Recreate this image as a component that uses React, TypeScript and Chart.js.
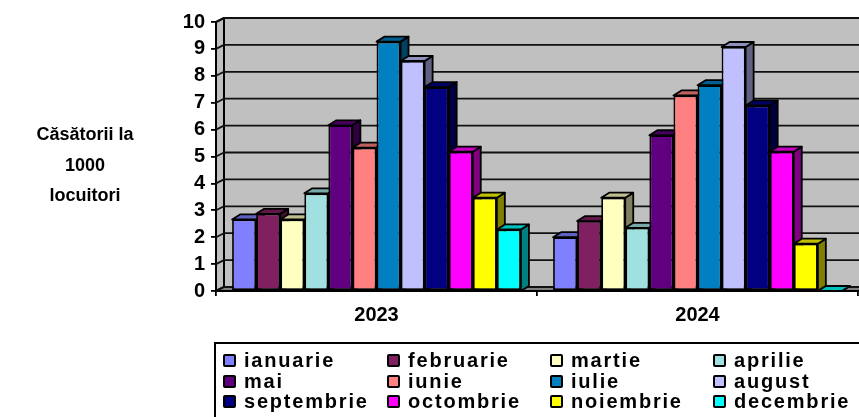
import React, { useEffect, useRef } from "react";
import { Chart, registerables } from "chart.js";

Chart.register(...registerables);

const years = ["2023", "2024"];
const months = ["ianuarie", "februarie", "martie", "aprilie", "mai", "iunie", "iulie", "august", "septembrie", "octombrie", "noiembrie", "decembrie"];
const colors = ["#8080FF", "#802060", "#FFFFC0", "#A0E0E0", "#600080", "#FF8080", "#0080C0", "#C0C0FF", "#000080", "#FF00FF", "#FFFF00", "#00FFFF"];
const values2023 = [2.66, 2.87, 2.66, 3.63, 6.16, 5.33, 9.27, 8.55, 7.58, 5.18, 3.47, 2.29];
const values2024 = [2.0, 2.6, 3.47, 2.35, 5.79, 7.27, 7.65, 9.07, 6.9, 5.18, 1.76, 0];
const sideTitle = ["Căsătorii la", "1000", "locuitori"];

const FONT = '"Liberation Sans", Arial, sans-serif';
const DX = 8;
const DY = 4;

function shade(hex: string, k: number) {
  const n = parseInt(hex.slice(1), 16);
  const r = Math.round(((n >> 16) & 255) * k);
  const g = Math.round(((n >> 8) & 255) * k);
  const b = Math.round((n & 255) * k);
  return `rgb(${r},${g},${b})`;
}

function poly(ctx: CanvasRenderingContext2D, pts: number[][], fill: string, lw = 1.8) {
  ctx.beginPath();
  pts.forEach((p, i) => (i ? ctx.lineTo(p[0], p[1]) : ctx.moveTo(p[0], p[1])));
  ctx.closePath();
  ctx.fillStyle = fill;
  ctx.fill();
  ctx.lineWidth = lw;
  ctx.lineJoin = "round";
  ctx.strokeStyle = "#000";
  ctx.stroke();
}

const depthPlugin = {
  id: "depth",
  beforeDatasetsDraw(chart: any) {
    const { ctx, chartArea: a, scales } = chart;
    const y = scales.y;
    ctx.save();
    const wr = a.right + DX + 4;
    poly(ctx, [[a.left + DX, a.top - DY], [wr, a.top - DY], [wr, a.bottom - DY], [a.left + DX, a.bottom - DY]], "#C0C0C0", 2);
    poly(ctx, [[a.left, a.top], [a.left + DX, a.top - DY], [a.left + DX, a.bottom - DY], [a.left, a.bottom]], "#C0C0C0", 2);
    poly(ctx, [[a.left, a.bottom], [a.left + DX, a.bottom - DY], [wr, a.bottom - DY], [a.right, a.bottom]], "#808080", 1.8);
    ctx.lineWidth = 1.8;
    ctx.strokeStyle = "#111";
    y.ticks.forEach((t: any) => {
      const py = y.getPixelForValue(t.value);
      ctx.beginPath();
      ctx.moveTo(a.left, py);
      ctx.lineTo(a.left + DX, py - DY);
      ctx.lineTo(wr, py - DY);
      ctx.stroke();
    });
    // side and top faces, left to right, so that each bar's front covers its neighbour
    [0, 1].forEach((cat) => {
      chart.data.datasets.forEach((ds: any, i: number) => {
        const el = chart.getDatasetMeta(i).data[cat];
        const half = el.width / 2;
        const l = el.x - half;
        const r = el.x + half;
        const top = el.y;
        const bot = y.getPixelForValue(0);
        const dy = 5;
        poly(ctx, [[r, top], [r + DX, top - dy], [r + DX, bot - dy], [r, bot]], shade(ds.backgroundColor, 0.5));
        poly(ctx, [[l, top], [l + DX, top - dy], [r + DX, top - dy], [r, top]], shade(ds.backgroundColor, 0.75));
      });
    });
    ctx.restore();
  },
};

export default function App() {
  const ref = useRef<HTMLCanvasElement>(null);
  useEffect(() => {
    const chart = new Chart(ref.current!, {
      type: "bar",
      data: {
        labels: years,
        datasets: months.map((m, i) => ({
          label: m,
          data: [values2023[i], values2024[i]],
          backgroundColor: colors[i],
          borderColor: "#000",
          borderWidth: 1.8,
          borderSkipped: false,
          categoryPercentage: 0.9,
          barPercentage: 0.997,
        })),
      },
      options: {
        animation: false,
        responsive: false,
        layout: { padding: { top: 22, right: 1, left: 0, bottom: 0 } },
        plugins: { legend: { display: false }, title: { display: false }, tooltip: { enabled: false } },
        scales: {
          x: {
            afterFit: (s: any) => { s.height = 126; },
            grid: { drawOnChartArea: false, drawTicks: true, tickLength: 5, tickColor: "#000", lineWidth: 1.8 },
            border: { display: true, color: "#000", width: 2 },
            ticks: { color: "#000", padding: 7, font: { family: FONT, size: 20, weight: "bold" }, maxRotation: 0 },
          },
          y: {
            min: 0,
            max: 10,
            afterFit: (s: any) => { s.width = 216; },
            grid: { drawOnChartArea: false, drawTicks: true, tickLength: 5, tickColor: "#000", lineWidth: 1.8 },
            border: { display: true, color: "#000", width: 2 },
            ticks: { stepSize: 1, autoSkip: false, color: "#000", padding: 6, font: { family: FONT, size: 20, weight: "bold" } },
          },
        },
      },
      plugins: [depthPlugin],
    } as any);
    return () => chart.destroy();
  }, []);

  const colX = [223, 387, 550, 713];
  const rowY = [349.5, 370.5, 391];
  return (
    <div style={{ position: "fixed", left: 0, top: 0, width: 859, height: 417, background: "#fff", fontFamily: FONT, color: "#000", overflow: "hidden" }}>
      <canvas ref={ref} width={859} height={417} style={{ display: "block" }} />
      <div style={{ position: "absolute", left: 20, top: 119, width: 130, textAlign: "center", fontWeight: "bold", fontSize: 18, lineHeight: "30.5px" }}>
        {sideTitle.map((s) => <div key={s}>{s}</div>)}
      </div>
      <div style={{ position: "absolute", left: 214, top: 342, width: 700, height: 120, border: "2px solid #000", boxSizing: "border-box" }} />
      {months.map((m, i) => (
        <div key={m} style={{ position: "absolute", left: colX[i % 4], top: rowY[Math.floor(i / 4)], height: 21, display: "flex", alignItems: "center", whiteSpace: "nowrap" }}>
          <span style={{ width: 13, height: 13, boxSizing: "border-box", background: colors[i], border: "2px solid #000", borderRadius: 2, marginRight: 8 }} />
          <span style={{ fontWeight: "bold", fontSize: 20, letterSpacing: 1.8 }}>{m}</span>
        </div>
      ))}
    </div>
  );
}
